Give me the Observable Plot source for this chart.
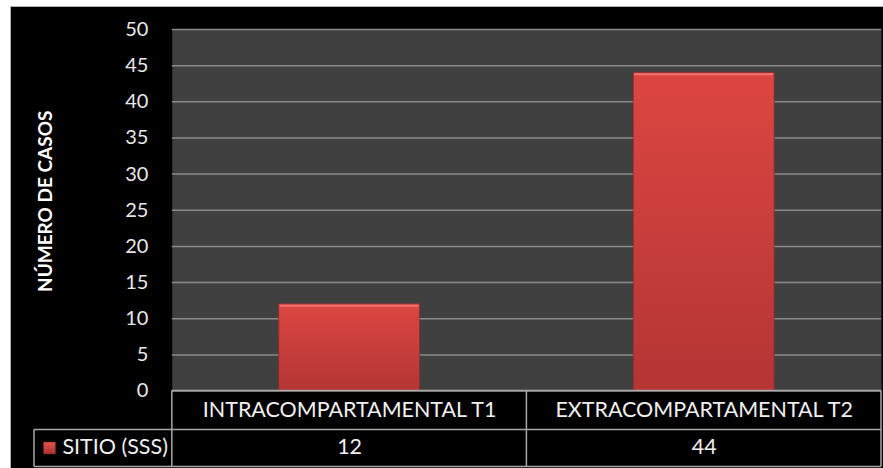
<!DOCTYPE html>
<html>
<head>
<meta charset="utf-8">
<script src="https://cdn.jsdelivr.net/npm/d3@7"></script>
<script src="https://cdn.jsdelivr.net/npm/@observablehq/plot@0.6"></script>
<style>
  html, body { margin: 0; padding: 0; background: #ffffff; }
  #chart { position: absolute; left: 10px; top: 6px; width: 873px; height: 462px;
           background: #000; border-top: 1px solid #b0b0b0; border-left: 1px solid #b0b0b0; box-sizing: border-box; }
  #chart svg { display: block; }
</style>
</head>
<body>
<div id="chart"></div>
<script>
const categories = ["INTRACOMPARTAMENTAL T1", "EXTRACOMPARTAMENTAL T2"];
const values = [12, 44];
const seriesName = "SITIO (SSS)";
const yTicks = [0, 5, 10, 15, 20, 25, 30, 35, 40, 45, 50];
const yLabel = "NÚMERO DE CASOS";

const data = categories.map((c, i) => ({cat: c, value: values[i]}));
const FONT = "Lato, 'Noto Sans', sans-serif";

// gradient definitions
function defs() {
  const g = d3.create("svg:g");
  const d = g.append("defs");
  const lg = d.append("linearGradient").attr("id", "barGrad").attr("x1", 0).attr("y1", 0).attr("x2", 0).attr("y2", 1);
  lg.append("stop").attr("offset", "0%").attr("stop-color", "#dc4642");
  lg.append("stop").attr("offset", "100%").attr("stop-color", "#b43534");
  const sg = d.append("linearGradient").attr("id", "swGrad").attr("x1", 0).attr("y1", 0).attr("x2", 0).attr("y2", 1);
  sg.append("stop").attr("offset", "0%").attr("stop-color", "#e25450");
  sg.append("stop").attr("offset", "100%").attr("stop-color", "#a83030");
  return g.node();
}

// data table grid lines
function tableLines(index, scales, vals, dim) {
  const {width, height, marginLeft, marginRight, marginBottom} = dim;
  const x0 = marginLeft, x2 = width - marginRight;
  const xb = scales.x(categories[1]);
  const yTop = height - marginBottom;
  const yMid = yTop + 39;
  const yBot = yTop + 76;
  const xl = marginLeft - 138;
  const g = d3.create("svg:g").attr("stroke", "#a8a8a8").attr("stroke-width", 1.5).attr("fill", "none");
  const lines = [
    [x0, yTop, x2, yTop],
    [xl, yMid, x2, yMid],
    [xl, yBot, x2, yBot],
    [xl, yMid, xl, yBot],
    [x0, yTop, x0, yBot],
    [xb, yTop, xb, yBot],
    [x2, yTop, x2, yBot]
  ];
  for (const [a, b, c, d] of lines) g.append("line").attr("x1", a).attr("y1", b).attr("x2", c).attr("y2", d);
  return g.node();
}

const chart = Plot.plot({
  width: 873,
  height: 462,
  marginLeft: 161,
  marginRight: 2,
  marginTop: 22,
  marginBottom: 78,
  style: {background: "transparent", fontFamily: FONT, color: "#e8e8e8", overflow: "visible"},
  x: {domain: categories, padding: 0, axis: null},
  y: {domain: [0, 50], ticks: yTicks, label: null},
  marks: [
    defs,
    Plot.frame({fill: "#404040", stroke: null}),
    Plot.gridY(yTicks, {stroke: "#8a8a8a", strokeOpacity: 1, strokeWidth: 1.5}),
    Plot.axisY(yTicks, {tickSize: 0, tickPadding: 24, fontSize: 20, fill: "#e8e8e8", label: null}),
    Plot.barY(data, {x: "cat", y: "value", fill: "url(#barGrad)", insetLeft: 107, insetRight: 107,
                     stroke: "#8e2a29", strokeWidth: 1, strokeOpacity: 0.7}),
    Plot.tickY(data, {x: "cat", y: "value", stroke: "#f07470", strokeWidth: 2, dy: 1.5, insetLeft: 108, insetRight: 108}),
    Plot.text([yLabel], {frameAnchor: "left", text: d => d, rotate: -90, dx: -127, dy: -9, fontSize: 19, fontWeight: "bold", fill: "#ffffff", textAnchor: "middle"}),
    tableLines,
    Plot.text(data, {x: "cat", text: "cat", frameAnchor: "bottom", dy: 19.5, fontSize: 21.5, fill: "#f0f0f0", lineAnchor: "middle"}),
    Plot.text(data, {x: "cat", text: d => String(d.value), frameAnchor: "bottom", dy: 56, fontSize: 21.5, fill: "#f0f0f0", lineAnchor: "middle"}),
    Plot.dot([seriesName], {frameAnchor: "bottom-left", symbol: "square", r: 6.8, dx: -123, dy: 57, fill: "url(#swGrad)", stroke: "#7a2020", strokeWidth: 0.5}),
    Plot.text([seriesName], {frameAnchor: "bottom-left", text: d => d, dx: -110, dy: 56, fontSize: 21.5, fill: "#f0f0f0", textAnchor: "start", lineAnchor: "middle"})
  ]
});
document.getElementById("chart").appendChild(chart);
</script>
</body>
</html>
